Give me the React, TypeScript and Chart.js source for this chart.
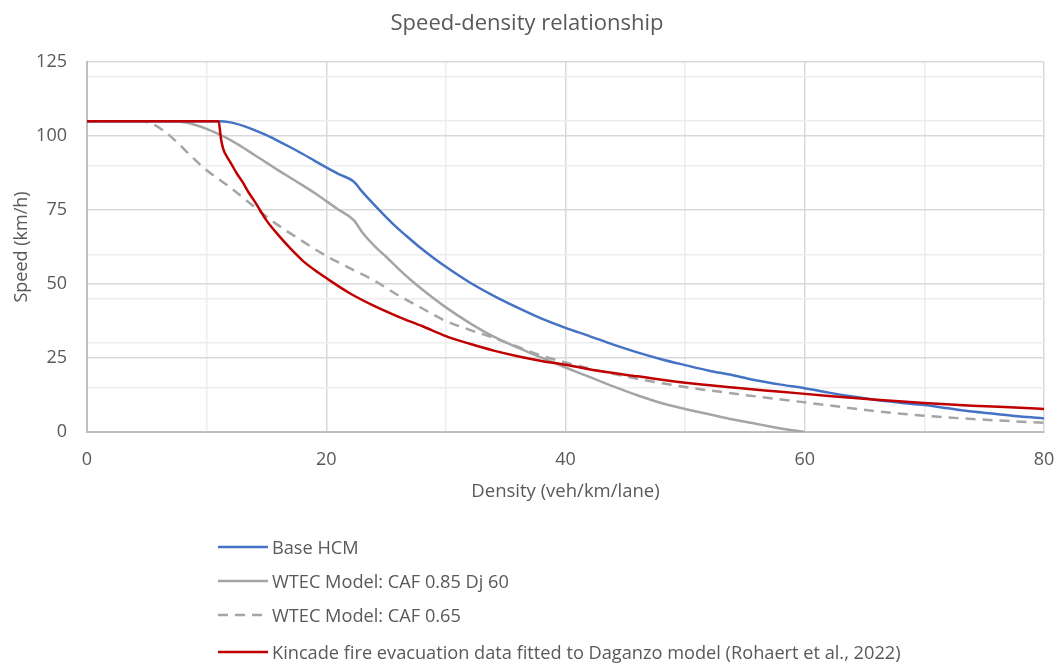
import React, { useEffect, useRef } from "react";
import { Chart, registerables } from "chart.js";

Chart.register(...registerables);

const TITLE = "Speed-density relationship";
const X_TITLE = "Density (veh/km/lane)";
const Y_TITLE = "Speed (km/h)";

const seriesNames = [
  "Base HCM",
  "WTEC Model: CAF 0.85 Dj 60",
  "WTEC Model: CAF 0.65",
  "Kincade fire evacuation data fitted to Daganzo model (Rohaert et al., 2022)",
];
const seriesColors = ["#4472C4", "#A5A5A5", "#A5A5A5", "#C00000"];
const seriesDashed = [false, false, true, false];

const hcmDensity = [0, 11, 12, 13, 14, 15, 16, 17, 18, 19, 20, 21, 22.3, 23, 24, 25, 26, 27, 28, 29, 30, 32, 34, 36, 38, 40, 42, 44, 46, 48, 50, 52, 54, 56, 58, 60, 62, 64, 66, 68, 70, 72, 74, 76, 78, 80];
const hcmSpeed = [105, 105, 104.6, 103.5, 102, 100.3, 98.3, 96.2, 94, 91.7, 89.4, 87.2, 84.6, 81.2, 76.8, 72.6, 68.7, 65.2, 61.8, 58.7, 55.8, 50.5, 46, 42, 38.3, 35.2, 32.4, 29.5, 26.9, 24.6, 22.6, 20.7, 19.2, 17.4, 16, 14.8, 13.3, 12, 10.8, 9.9, 9.1, 8, 6.9, 6.1, 5.2, 4.6];

const caf85Density = [0, 7, 8, 9, 10, 11, 12, 13, 14, 15, 16, 17, 18, 19, 20, 21, 22.3, 23, 24, 25, 26, 27, 28, 30, 32, 34, 36, 38, 40, 42, 44, 46, 48, 50, 52, 54, 56, 58, 60];
const caf85Speed = [105, 105, 104.7, 103.8, 102.4, 100.6, 98.6, 96.2, 93.6, 91, 88.4, 85.9, 83.4, 80.8, 78, 75.2, 71.6, 67.5, 63, 59.2, 55.3, 51.6, 48.2, 42.1, 36.8, 32.2, 28.5, 25.1, 21.8, 18.6, 15.4, 12.4, 9.8, 7.8, 6.0, 4.2, 2.7, 1.2, 0];

const caf65Density = [0, 4.5, 5.5, 6.5, 7.5, 8.5, 10, 11, 12, 13, 14, 15, 16, 18, 20, 22, 24, 26, 28, 30, 32, 34, 36, 38, 40, 43, 46, 50, 54, 58, 62, 66, 70, 74, 78, 80];
const caf65Speed = [105, 105, 104, 101.5, 98, 94, 88.4, 85.5, 82.5, 79.3, 76, 72.8, 69.8, 64.5, 59.5, 55.3, 51.2, 46.2, 41.8, 37.5, 34.5, 31.8, 28.8, 25.8, 23.5, 20.5, 18, 15.2, 13, 11, 9, 7, 5.5, 4.4, 3.5, 3.1];

const kincadeDensity = [0, 11, 11.2, 11.4, 11.7, 12, 12.5, 13, 13.5, 14, 15, 16, 17, 18, 19, 20, 22, 24, 26, 28, 30, 32, 34, 36, 38, 40, 43, 46, 50, 54, 58, 62, 66, 70, 74, 78, 80];
const kincadeSpeed = [105, 105, 99, 95.5, 93, 91, 87.5, 84.5, 81, 78, 71.5, 66.5, 62, 58, 54.8, 52, 46.8, 42.6, 39, 35.8, 32.4, 29.8, 27.5, 25.6, 24, 22.7, 20.5, 18.8, 16.6, 15, 13.6, 12.2, 10.9, 9.8, 8.9, 8.2, 7.8];

const xMajorTicks = [0, 20, 40, 60, 80];
const xMinorTicks = [10, 30, 50, 70];
const yMajorTicks = [0, 25, 50, 75, 100, 125];
const yMinorTicks = [15, 30, 45, 60, 90, 105, 120];

const FONT = "'Open Sans', sans-serif";
const TEXT = "#595959";

const zip = (xs: number[], ys: number[]) => xs.map((x, i) => ({ x, y: ys[i] }));

export default function App() {
  const ref = useRef<HTMLCanvasElement | null>(null);

  useEffect(() => {
    if (!ref.current) return;
    const sets = [
      zip(hcmDensity, hcmSpeed),
      zip(caf85Density, caf85Speed),
      zip(caf65Density, caf65Speed),
      zip(kincadeDensity, kincadeSpeed),
    ];
    const orders = [1, 3, 2, 0];
    const chart = new Chart(ref.current, {
      type: "line",
      data: {
        datasets: sets.map((d, i) => ({
          label: seriesNames[i],
          data: d,
          borderColor: seriesColors[i],
          backgroundColor: seriesColors[i],
          borderWidth: 2.5,
          borderDash: seriesDashed[i] ? [10, 7] : [],
          pointRadius: 0,
          fill: false,
          cubicInterpolationMode: "monotone" as const,
          order: orders[i],
        })),
      },
      options: {
        animation: false,
        responsive: false,
        maintainAspectRatio: false,
        layout: { padding: { left: 0, right: 16, top: 62, bottom: 152 } },
        plugins: {
          legend: { display: false },
          tooltip: { enabled: false },
          title: { display: false },
        },
        scales: {
          x: {
            type: "linear",
            min: 0,
            max: 80,
            afterFit: (s: any) => {
              s.height = 80;
              s.paddingLeft = 0;
              s.paddingRight = 0;
            },
            afterBuildTicks: (s: any) => {
              s.ticks = [...xMajorTicks, ...xMinorTicks].sort((a, b) => a - b).map((v) => ({ value: v }));
            },
            ticks: {
              color: TEXT,
              font: { family: FONT, size: 18 },
              padding: 17,
              maxRotation: 0,
              autoSkip: false,
              callback: (v: any) => (xMajorTicks.includes(Number(v)) ? String(v) : ""),
            },
            grid: {
              drawTicks: false,
              lineWidth: 1.5,
              color: (ctx: any) =>
                ctx.tick && xMajorTicks.includes(ctx.tick.value) ? "#d9d9d9" : "#ededed",
            },
            border: { display: true, color: "#bfbfbf", width: 2 },
            title: {
              display: true,
              text: X_TITLE,
              color: TEXT,
              font: { family: FONT, size: 18.5 },
              padding: { top: 0, bottom: 9 },
            },
          },
          y: {
            type: "linear",
            min: 0,
            max: 125,
            afterFit: (s: any) => {
              s.width = 87;
              s.paddingTop = 0;
              s.paddingBottom = 0;
            },
            afterBuildTicks: (s: any) => {
              s.ticks = [...yMajorTicks, ...yMinorTicks].sort((a, b) => a - b).map((v) => ({ value: v }));
            },
            ticks: {
              color: TEXT,
              font: { family: FONT, size: 18 },
              padding: 20,
              autoSkip: false,
              callback: (v: any) => (yMajorTicks.includes(Number(v)) ? String(v) : ""),
            },
            grid: {
              drawTicks: false,
              lineWidth: 1.5,
              color: (ctx: any) =>
                ctx.tick && yMajorTicks.includes(ctx.tick.value) ? "#d9d9d9" : "#ededed",
            },
            border: { display: true, color: "#bfbfbf", width: 2 },
            title: {
              display: true,
              text: Y_TITLE,
              color: TEXT,
              font: { family: FONT, size: 18 },
              padding: { top: 11, bottom: 0 },
            },
          },
        },
      },
    });
    return () => chart.destroy();
  }, []);

  const rowCenters = [547, 581, 615, 652];

  return (
    <div style={{ position: "fixed", left: 0, top: 0, width: 1060, height: 664, background: "#fff" }}>
      <canvas ref={ref} width={1060} height={664} style={{ position: "absolute", left: 0, top: 0, width: 1060, height: 664 }} />
      <div
        style={{
          position: "absolute",
          left: 0,
          top: 7.5,
          width: 1054,
          height: 27,
          lineHeight: "27px",
          textAlign: "center",
          fontFamily: FONT,
          fontSize: 22,
          color: TEXT,
          whiteSpace: "nowrap",
        }}
      >
        {TITLE}
      </div>
      {seriesNames.map((name, i) => (
        <div
          key={name}
          style={{
            position: "absolute",
            left: 218,
            top: rowCenters[i] - 13,
            height: 26,
            display: "flex",
            alignItems: "center",
            whiteSpace: "nowrap",
            fontFamily: FONT,
            fontSize: 18.2,
            color: TEXT,
          }}
        >
          <svg width={50} height={6} style={{ display: "block" }}>
            <line
              x1={0}
              y1={3}
              x2={50}
              y2={3}
              stroke={seriesColors[i]}
              strokeWidth={2.5}
              strokeDasharray={seriesDashed[i] ? "10 7" : undefined}
            />
          </svg>
          <span style={{ marginLeft: 4 }}>{name}</span>
        </div>
      ))}
    </div>
  );
}
